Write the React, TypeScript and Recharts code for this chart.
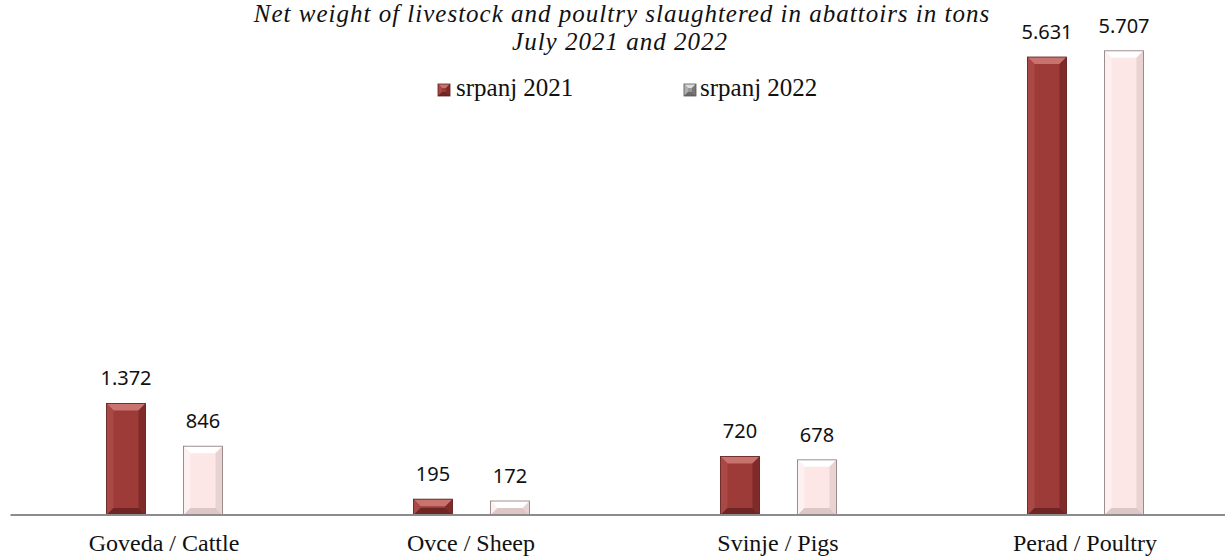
import React from 'react'
import { BarChart, Bar, XAxis, YAxis, LabelList, Customized } from 'recharts'

const categories = ['Goveda / Cattle', 'Ovce / Sheep', 'Svinje / Pigs', 'Perad / Poultry']
const july2021 = [1372, 195, 720, 5631]
const july2022 = [846, 172, 678, 5707]
const seriesNames = ['srpanj 2021', 'srpanj 2022']
const titleLines = [
  'Net weight of livestock and poultry slaughtered in abattoirs in tons',
  'July 2021 and 2022',
]

const data = categories.map((name, i) => ({ name, a: july2021[i], b: july2022[i] }))

const RED = { base: '#9c3b38', top: '#c9736f', left: '#aa4845', right: '#7e2b29', bottom: '#6f2523', stroke: '#5e1e1c' }
const PINK = { base: '#fce6e6', top: '#ffffff', left: '#fdf0f0', right: '#e9d2d2', bottom: '#dcc6c6', stroke: '#857575' }
const GRAY = { base: '#9a9a9a', top: '#dddddd', left: '#b0b0b0', right: '#777777', bottom: '#6a6a6a', stroke: '#555555' }

const fmt = (v: number) => String(v).replace(/\B(?=(\d{3})+(?!\d))/g, '.')

function bevel(x: number, y: number, w: number, h: number, c: typeof RED, size = 7) {
  const b = Math.max(1, Math.min(size, h / 2, w / 2))
  return (
    <g>
      <rect x={x} y={y} width={w} height={h} fill={c.base} />
      <polygon points={`${x},${y} ${x + w},${y} ${x + w - b},${y + b} ${x + b},${y + b}`} fill={c.top} />
      <polygon points={`${x},${y} ${x + b},${y + b} ${x + b},${y + h - b} ${x},${y + h}`} fill={c.left} />
      <polygon points={`${x + w},${y} ${x + w},${y + h} ${x + w - b},${y + h - b} ${x + w - b},${y + b}`} fill={c.right} />
      <polygon points={`${x},${y + h} ${x + w},${y + h} ${x + w - b},${y + h - b} ${x + b},${y + h - b}`} fill={c.bottom} />
      <rect x={x} y={y} width={w} height={h} fill="none" stroke={c.stroke} strokeWidth={0.8} />
    </g>
  )
}

const makeShape = (c: typeof RED) => (props: any) => {
  const { x, y, width, height } = props
  if (!height || height <= 0) return <g />
  return bevel(x, y, width, height, c)
}

const valueLabel = (props: any) => {
  const { x, y, width, value } = props
  return (
    <text x={x + width / 2} y={y - 18} textAnchor="middle" fontFamily="'Noto Sans', sans-serif" fontSize={20} fill="#111">
      {fmt(value)}
    </text>
  )
}

const CategoryTick = (props: any) => {
  const { x, y, payload } = props
  return (
    <text x={x} y={y + 36} textAnchor="middle" fontFamily="'Liberation Serif', serif" fontSize={24} fill="#111">
      {payload.value}
    </text>
  )
}

const TitleAndLegend = () => (
  <g>
    <text x={622} y={22} textAnchor="middle" fontFamily="'Liberation Serif', serif" fontStyle="italic" fontSize={25} letterSpacing={1} fill="#111">
      {titleLines[0]}
    </text>
    <text x={620} y={50} textAnchor="middle" fontFamily="'Liberation Serif', serif" fontStyle="italic" fontSize={25} letterSpacing={1} fill="#111">
      {titleLines[1]}
    </text>
    {bevel(438, 84, 12, 12, RED, 4)}
    <text x={456} y={96} fontFamily="'Liberation Serif', serif" fontSize={25} fill="#111">{seriesNames[0]}</text>
    {bevel(684, 84, 12, 12, GRAY, 4)}
    <text x={700} y={96} fontFamily="'Liberation Serif', serif" fontSize={25} fill="#111">{seriesNames[1]}</text>
  </g>
)

export default function App() {
  return (
    <div style={{ position: 'absolute', left: 0, top: 0, width: 1225, height: 556, overflow: 'hidden', background: '#fff' }}>
      <BarChart
        width={1240}
        height={556}
        data={data}
        margin={{ top: 27, right: 1.5, left: 10.5, bottom: 0 }}
        barSize={39}
        barGap={38}
      >
        <XAxis
          dataKey="name"
          height={41}
          tickLine={false}
          tickSize={0}
          tickMargin={0}
          axisLine={{ stroke: '#8c8c8c', strokeWidth: 2 }}
          tick={<CategoryTick />}
          interval={0}
        />
        <YAxis hide domain={[0, 6000]} />
        <Bar dataKey="a" name={seriesNames[0]} fill={RED.base} shape={makeShape(RED)} isAnimationActive={false}>
          <LabelList dataKey="a" content={valueLabel} />
        </Bar>
        <Bar dataKey="b" name={seriesNames[1]} fill={PINK.base} shape={makeShape(PINK)} isAnimationActive={false}>
          <LabelList dataKey="b" content={valueLabel} />
        </Bar>
        <Customized component={TitleAndLegend} />
      </BarChart>
    </div>
  )
}
